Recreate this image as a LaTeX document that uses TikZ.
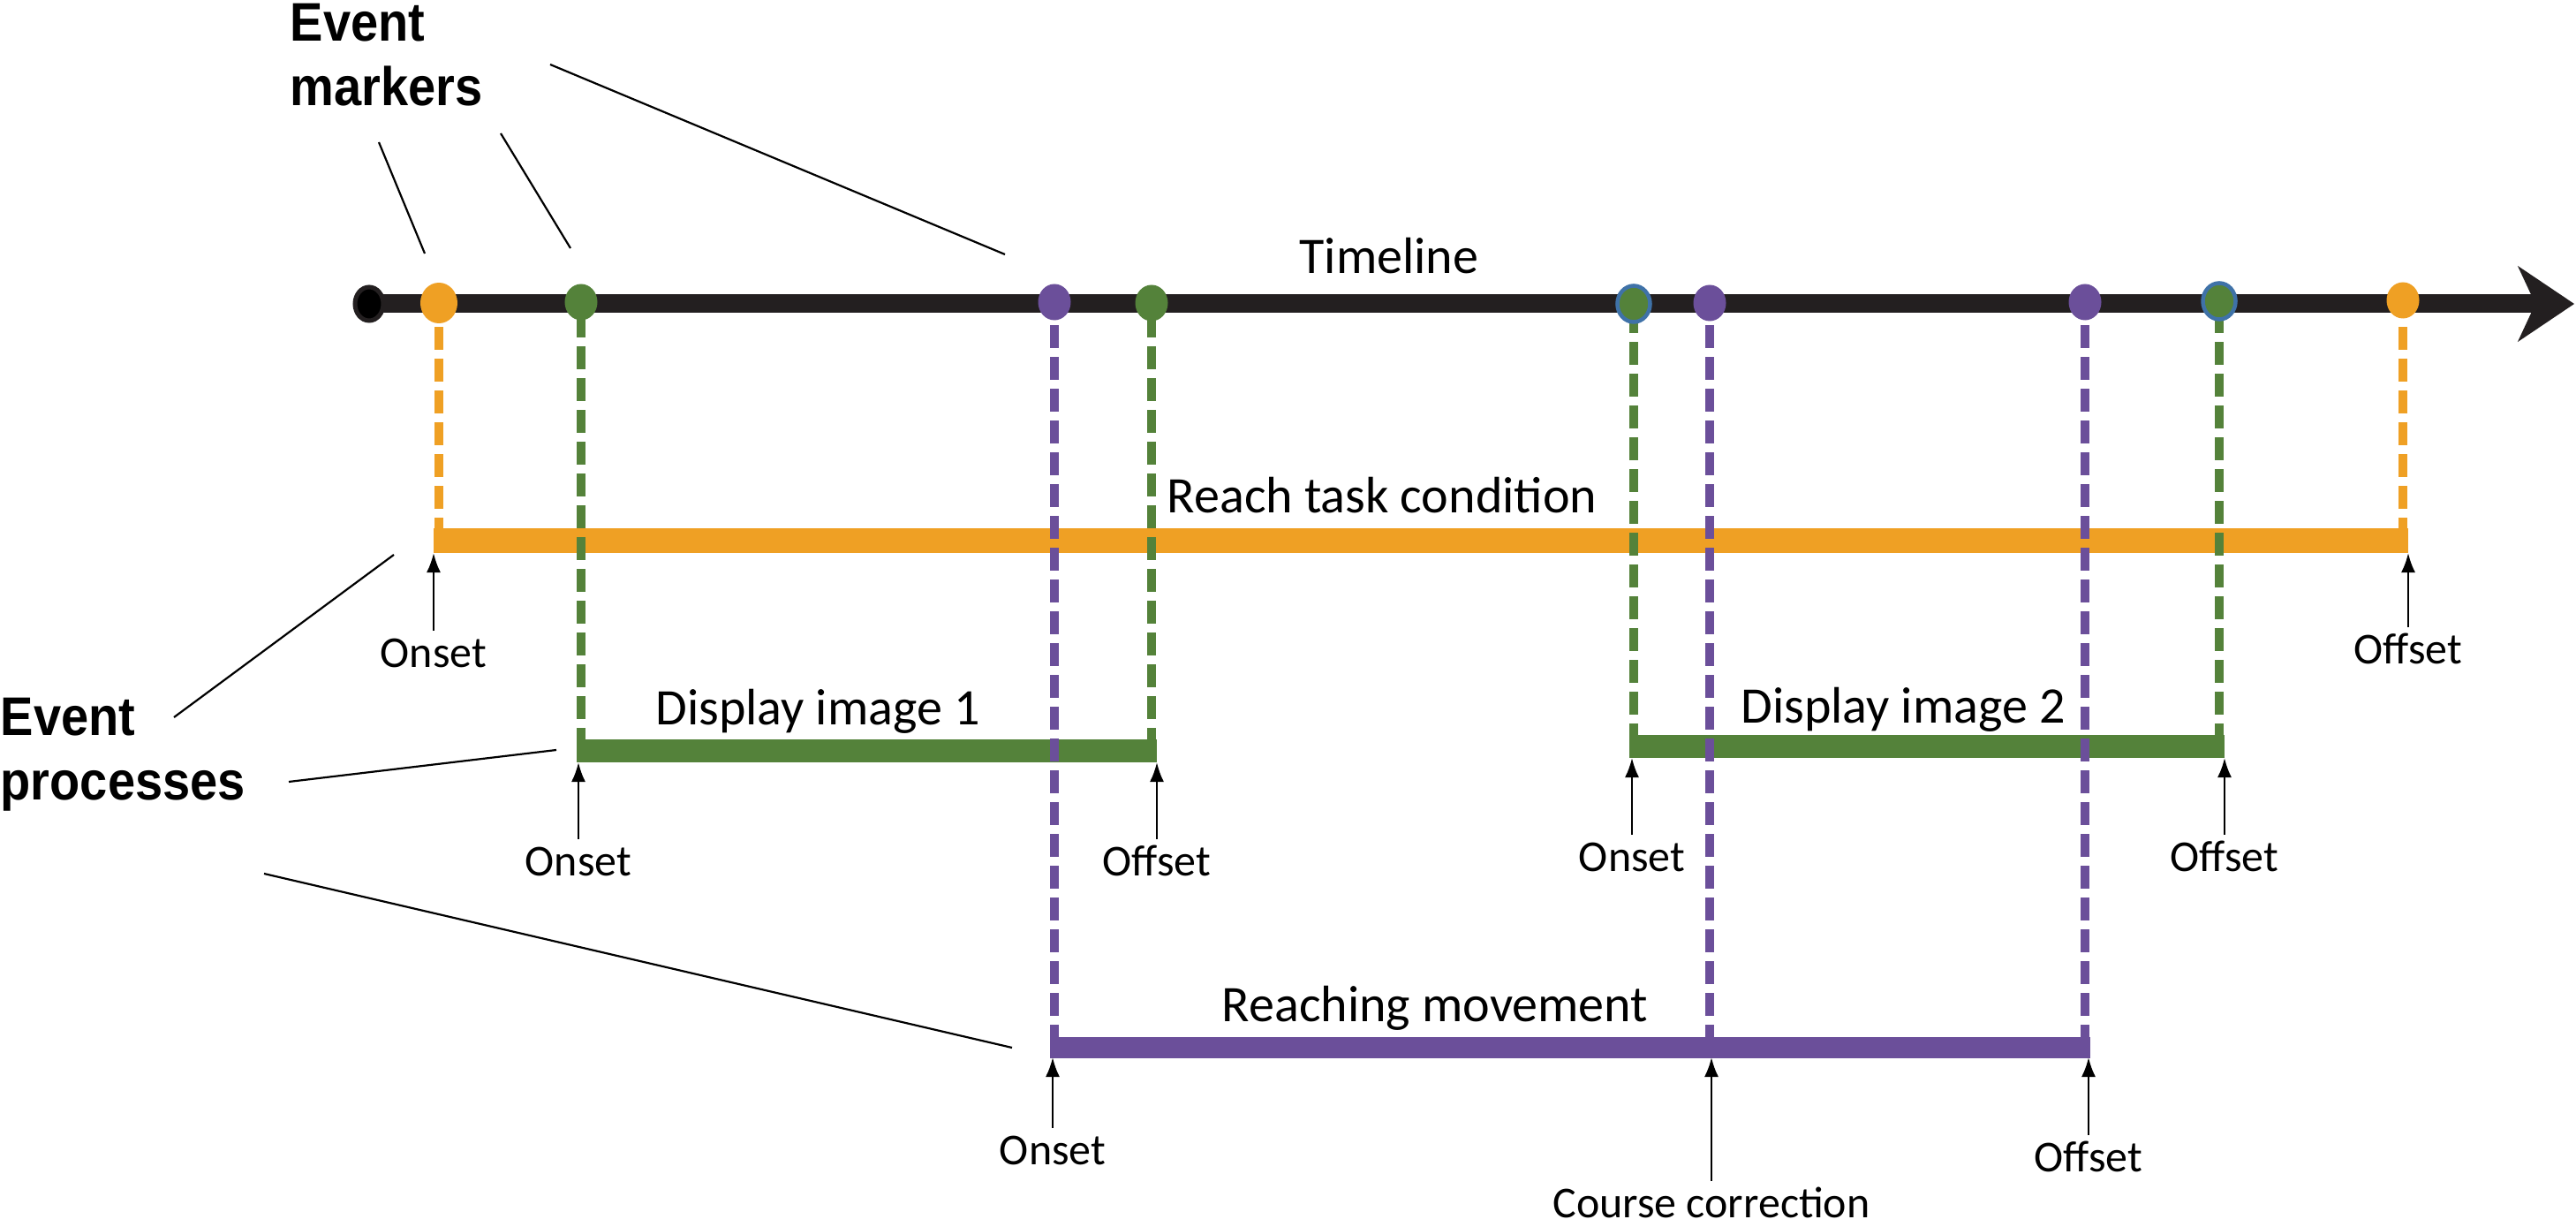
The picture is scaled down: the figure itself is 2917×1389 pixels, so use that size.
\documentclass[tikz,border=0pt]{standalone}
\usepackage{fontspec}
\setmainfont{Carlito}
\newfontfamily\headfont[FakeStretch=0.91]{Liberation Sans}
\usepackage{tikz}
\usetikzlibrary{arrows.meta}
\usetikzlibrary{shapes.geometric}
\usetikzlibrary{positioning}

\definecolor{lineblack}{HTML}{231F20}
\definecolor{rtcorange}{HTML}{EFA024}
\definecolor{imggreen}{HTML}{54823A}
\definecolor{reachpurple}{HTML}{6B4F9A}
\definecolor{ringblue}{HTML}{3F72A8}

\begin{document}
\begin{tikzpicture}[x=0.01cm, y=-0.01cm,
  evdot/.style={ellipse, inner sep=0pt, minimum width=3.7mm, minimum height=4.1mm, fill=#1},
  ringdot/.style={evdot=imggreen, draw=ringblue, line width=0.45mm},
  evline/.style={#1, line width=1.05mm, dash pattern=on 2.6mm off 1mm},
  procbar/.style={line width=#1},
  hitarrow/.style={-{Latex[length=2.2mm, width=1.6mm]}, line width=0.25mm},
  pointer/.style={line width=0.22mm},
  edgelabel/.style={font=\fontsize{14.2pt}{17pt}\selectfont, inner sep=0.9mm, text height=3.2mm, text depth=0pt},
  procname/.style={font=\fontsize{16.5pt}{20pt}\selectfont, inner sep=0pt, anchor=base},
  heading/.style={font=\headfont\bfseries\fontsize{17.5pt}{20.8pt}\selectfont, align=left, inner sep=0pt, anchor=north west}]
\useasboundingbox (0,0) rectangle (2917,1389);

% timeline
\coordinate (tStart) at (418,344);
\coordinate (tEnd) at (2915,344);
\draw[lineblack, line width=2.1mm, -{Stealth[length=6.4mm, width=8.6mm, inset=2mm, line width=0.2mm]}] (tStart) -- (tEnd);
\node[evdot=black, draw=lineblack, line width=0.5mm, minimum width=3.2mm, minimum height=3.8mm] (dStart) at (tStart) {};

% event markers on the timeline
\coordinate (mRtcOn) at (497,343);
\coordinate (mImgOneOn) at (658,342);
\coordinate (mReachOn) at (1194,342);
\coordinate (mImgOneOff) at (1304,343);
\coordinate (mImgTwoOn) at (1850,344);
\coordinate (mCourse) at (1936,343);
\coordinate (mReachOff) at (2361,342);
\coordinate (mImgTwoOff) at (2513,341);
\coordinate (mRtcOff) at (2721,340);

% corners where the markers meet the processes
\coordinate (rtcA) at (497,612);
\coordinate (rtcB) at (2721,612);
\coordinate (imgOneA) at (658,850);
\coordinate (imgOneB) at (1304,850);
\coordinate (imgTwoA) at (1850,845);
\coordinate (imgTwoB) at (2513,845);
\coordinate (reachA) at (1194,1186);
\coordinate (reachC) at (1936,1186);
\coordinate (reachB) at (2361,1186);

% event processes
\draw[procbar=2.8mm, rtcorange] ([xshift=-0.6mm]rtcA) -- ([xshift=0.6mm]rtcB);
\draw[procbar=2.6mm, imggreen] ([xshift=-0.5mm]imgOneA) -- ([xshift=0.6mm]imgOneB);
\draw[procbar=2.6mm, imggreen] ([xshift=-0.5mm]imgTwoA) -- ([xshift=0.6mm]imgTwoB);
\draw[procbar=2.3mm, reachpurple] ([xshift=-0.5mm]reachA) -- ([xshift=0.6mm]reachB);

\draw[evline=rtcorange] (rtcA) -- (mRtcOn);
\draw[evline=rtcorange] (rtcB) -- (mRtcOff);
\draw[evline=imggreen] (imgOneA) -- (mImgOneOn);
\draw[evline=imggreen] (imgOneB) -- (mImgOneOff);
\draw[evline=imggreen] (imgTwoA) -- (mImgTwoOn);
\draw[evline=imggreen] (imgTwoB) -- (mImgTwoOff);
\draw[evline=reachpurple] (reachA) -- (mReachOn);
\draw[evline=reachpurple] (reachC) -- (mCourse);
\draw[evline=reachpurple] (reachB) -- (mReachOff);

\node[evdot=rtcorange, minimum width=4.2mm, minimum height=4.6mm] (dRtcOn) at (mRtcOn) {};
\node[evdot=imggreen] (dImgOneOn) at (mImgOneOn) {};
\node[evdot=reachpurple] (dReachOn) at (mReachOn) {};
\node[evdot=imggreen] (dImgOneOff) at (mImgOneOff) {};
\node[ringdot] (dImgTwoOn) at (mImgTwoOn) {};
\node[evdot=reachpurple] (dCourse) at (mCourse) {};
\node[evdot=reachpurple] (dReachOff) at (mReachOff) {};
\node[ringdot] (dImgTwoOff) at (mImgTwoOff) {};
\node[evdot=rtcorange] (dRtcOff) at (mRtcOff) {};

% names
\node[procname] (nTimeline) at (1573,310) {Timeline};
\node[procname] (nRtc) at (1565,581) {Reach task condition};
\node[procname] (nImgOne) at (926,821) {Display image 1};
\node[procname] (nImgTwo) at (2155,819) {Display image 2};
\node[procname] (nReach) at (1625,1157) {Reaching movement};

% onsets and offsets
\coordinate (rtcOn) at (491,626);
\coordinate (rtcOff) at (2727,626);
\coordinate (imgOneOn) at (655,863);
\coordinate (imgOneOff) at (1310,863);
\coordinate (imgTwoOn) at (1848,858);
\coordinate (imgTwoOff) at (2519,858);
\coordinate (reachOn) at (1192,1197);
\coordinate (courseAt) at (1938,1197);
\coordinate (reachOff) at (2365,1197);

\node[edgelabel, below=8.8mm of rtcOn] (lRtcOn) {Onset};
\node[edgelabel, below=8.4mm of rtcOff] (lRtcOff) {Offset};
\node[edgelabel, below=8.7mm of imgOneOn] (lImgOneOn) {Onset};
\node[edgelabel, below=8.7mm of imgOneOff] (lImgOneOff) {Offset};
\node[edgelabel, below=8.7mm of imgTwoOn] (lImgTwoOn) {Onset};
\node[edgelabel, below=8.7mm of imgTwoOff] (lImgTwoOff) {Offset};
\node[edgelabel, below=8.0mm of reachOn] (lReachOn) {Onset};
\node[edgelabel, below=14.0mm of courseAt] (lCourse) {Course correction};
\node[edgelabel, below=8.8mm of reachOff] (lReachOff) {Offset};

\draw[hitarrow] (lRtcOn) -- (rtcOn);
\draw[hitarrow] (lRtcOff) -- (rtcOff);
\draw[hitarrow] (lImgOneOn) -- (imgOneOn);
\draw[hitarrow] (lImgOneOff) -- (imgOneOff);
\draw[hitarrow] (lImgTwoOn) -- (imgTwoOn);
\draw[hitarrow] (lImgTwoOff) -- (imgTwoOff);
\draw[hitarrow] (lReachOn) -- (reachOn);
\draw[hitarrow] (lCourse) -- (courseAt);
\draw[hitarrow] (lReachOff) -- (reachOff);

% headings and their pointers
\node[heading] (hMarkers) at (328,3) {Event\\markers};
\node[heading] (hProcesses) at (0,789) {Event\\processes};

\coordinate (emA1) at (429,161);
\coordinate (emA2) at (481,287);
\coordinate (emB1) at (567,151);
\coordinate (emB2) at (646,281);
\coordinate (emC1) at (623,73);
\coordinate (emC2) at (1138,288);
\coordinate (epA1) at (197,812);
\coordinate (epA2) at (446,628);
\coordinate (epB1) at (327,885);
\coordinate (epB2) at (630,849);
\coordinate (epC1) at (299,989);
\coordinate (epC2) at (1146,1186);
\draw[pointer] (emA1) -- (emA2) (emB1) -- (emB2) (emC1) -- (emC2)
  (epA1) -- (epA2) (epB1) -- (epB2) (epC1) -- (epC2);
\end{tikzpicture}
\end{document}
